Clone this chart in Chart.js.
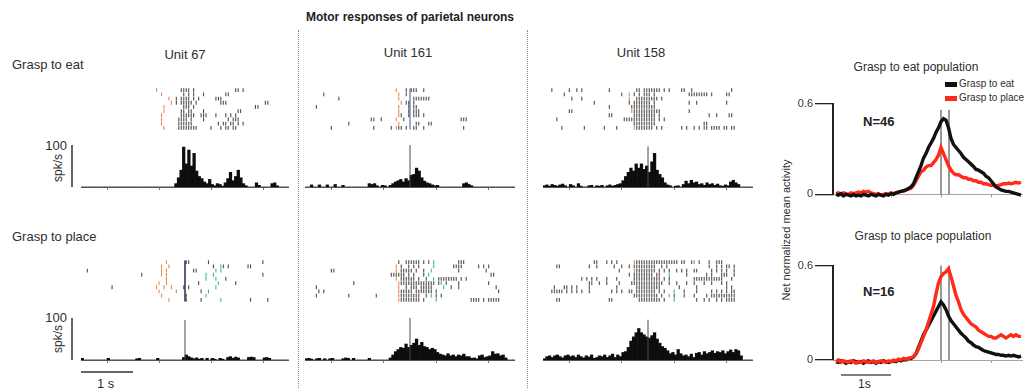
<!DOCTYPE html>
<html>
<head>
<meta charset="utf-8">
<title>Motor responses of parietal neurons</title>
<script src="https://cdn.jsdelivr.net/npm/chart.js@4.4.1/dist/chart.umd.min.js"></script>
<style>
  body { margin: 0; background: #fff; }
  #figure {
    position: relative;
    width: 1028px;
    height: 390px;
    overflow: hidden;
    font-family: "Liberation Sans", Arial, Helvetica, sans-serif;
    color: #2e2e2e;
  }
  .box { position: absolute; }
  .label { position: absolute; white-space: nowrap; line-height: 1; }
  .title { font-weight: bold; font-size: 12px; color: #222; }
  .unit { font-size: 13px; transform: translateX(-50%); }
  .cond { font-size: 13px; }
  .rate { font-size: 13px; text-align: right; width: 40px; }
  .vert { transform: translate(-50%, -50%) rotate(-90deg); }
  .sep { position: absolute; top: 30px; height: 358px; border-left: 1px dotted #8a8a8a; }
  .pop-title { font-size: 12px; transform: translateX(-50%); }
  .count { font-size: 13px; font-weight: bold; color: #222; }
  .legend-swatch { position: absolute; width: 12px; height: 5px; }
  .legend-text { font-size: 10px; }
</style>
</head>
<body>
<div id="figure">
  <div class="label title" style="left:0; width:820px; text-align:center; top:11px">Motor responses of parietal neurons</div>

  <div class="sep" style="left:298px"></div>
  <div class="sep" style="left:527px"></div>

  <div class="label unit" style="left:185px; top:48px">Unit 67</div>
  <div class="label unit" style="left:408px; top:46px">Unit 161</div>
  <div class="label unit" style="left:641px; top:46px">Unit 158</div>

  <div class="label cond" style="left:12px; top:58px">Grasp to eat</div>
  <div class="label cond" style="left:12px; top:230px">Grasp to place</div>

  <div class="label rate" style="left:27px; top:139px">100</div>
  <div class="label vert" style="left:58px; top:168px; font-size:12px">spk/s</div>
  <div class="label rate" style="left:27px; top:311px">100</div>
  <div class="label vert" style="left:58px; top:339px; font-size:12px">spk/s</div>
  <div class="label" style="left:97px; top:377px; font-size:13px">1 s</div>

  <div class="box" style="left:81px; top:83px; width:208px; height:52px"><canvas id="r67eat"></canvas></div>
  <div class="box" style="left:305px; top:83px; width:210px; height:52px"><canvas id="r161eat"></canvas></div>
  <div class="box" style="left:543px; top:83px; width:210px; height:52px"><canvas id="r158eat"></canvas></div>
  <div class="box" style="left:71px; top:145px; width:218px; height:46px"><canvas id="h67eat"></canvas></div>
  <div class="box" style="left:305px; top:145px; width:210px; height:46px"><canvas id="h161eat"></canvas></div>
  <div class="box" style="left:543px; top:145px; width:210px; height:46px"><canvas id="h158eat"></canvas></div>

  <div class="box" style="left:81px; top:255px; width:208px; height:52px"><canvas id="r67place"></canvas></div>
  <div class="box" style="left:305px; top:255px; width:210px; height:52px"><canvas id="r161place"></canvas></div>
  <div class="box" style="left:543px; top:255px; width:210px; height:52px"><canvas id="r158place"></canvas></div>
  <div class="box" style="left:71px; top:318px; width:218px; height:62px"><canvas id="h67place"></canvas></div>
  <div class="box" style="left:305px; top:318px; width:210px; height:46px"><canvas id="h161place"></canvas></div>
  <div class="box" style="left:543px; top:318px; width:210px; height:46px"><canvas id="h158place"></canvas></div>

  <div class="label pop-title" style="left:916px; top:61px">Grasp to eat population</div>
  <div class="legend-swatch" style="left:945px; top:82px; background:#111"></div>
  <div class="label legend-text" style="left:959px; top:79px">Grasp to eat</div>
  <div class="legend-swatch" style="left:945px; top:96px; background:#ff2a1a"></div>
  <div class="label legend-text" style="left:959px; top:93px">Grasp to place</div>
  <div class="label count" style="left:863px; top:115px">N=46</div>

  <div class="label pop-title" style="left:923px; top:230px">Grasp to place population</div>
  <div class="label count" style="left:863px; top:285px">N=16</div>
  <div class="label" style="left:858px; top:378px; font-size:12px">1s</div>

  <div class="label vert" style="left:786px; top:230px; font-size:11px">Net normalized mean activity</div>

  <div class="box" style="left:793px; top:95px; width:235px; height:108px"><canvas id="popEat"></canvas></div>
  <div class="box" style="left:793px; top:257px; width:235px; height:123px"><canvas id="popPlace"></canvas></div>
</div>

<script>
// Spike trains and rate histograms share 50 ms bins starting 2 s before grasp onset.
const binWidth = 0.05;
const windowStart = -2;

// Unit 67, grasp to eat: spike bins per trial, cue marker bins, rate (spk/s) per bin
const unit67EatSpikes = [
  [38, 39, 40, 41, 43, 60, 61, 63],
  [39, 41, 43, 47, 56, 57],
  [36, 38, 39, 40, 41, 43, 45, 52, 53, 54],
  [36, 38, 39, 40, 41, 42, 44, 54, 55, 56, 72, 73],
  [39, 40, 41, 43, 68, 69],
  [38, 39, 41, 42, 47, 61, 62],
  [38, 39, 40, 41, 42, 43, 46, 47, 48, 52, 56, 58, 60],
  [37, 38, 39, 40, 42, 47, 57, 59, 60, 61],
  [37, 38, 39, 40, 41, 42, 53, 55, 56, 58, 59, 61, 63],
  [37, 38, 39, 40, 41, 42, 43, 44, 50, 54, 56, 57, 59, 60]
];
const unit67EatCue = [[28], [30], [33], [34], [31], [31], [30], [30], [30], [31]];
const unit67EatRate = [
  0, 0, 0, 0, 0, 0, 0, 0, 0, 0,
  0, 0, 0, 0, 0, 0, 0, 0, 0, 0,
  0, 0, 0, 0, 0, 0, 0, 0, 0, 0,
  0, 0, 0, 0, 0, 0, 8, 22, 40, 95,
  55, 88, 50, 80, 38, 25, 20, 12, 8, 18,
  6, 3, 8, 6, 2, 10, 20, 35, 15, 25,
  40, 22, 8, 3, 0, 0, 0, 10, 4, 0,
  0, 0, 0, 8, 10, 3, 0, 0, 0, 0
];

// Unit 161, grasp to eat
const unit161EatSpikes = [
  [38, 40, 41, 42, 45],
  [5, 38],
  [11, 41, 42, 43, 44, 45, 46, 47],
  [38, 39, 41],
  [2, 39, 41, 42],
  [39, 41, 42, 43],
  [36, 39, 41, 42, 43, 45],
  [24, 25, 28, 37, 60, 61, 62],
  [15, 42, 43, 47, 48],
  [8, 25, 32, 35, 36, 38, 41, 42, 45, 61]
];
const unit161EatCue = [[34], [35], [35], [36], [35], [35], [35], [34], [35], [34]];
const unit161EatRate = [
  0, 0, 5, 0, 0, 5, 0, 0, 5, 0,
  0, 6, 0, 0, 4, 0, 0, 0, 0, 0,
  0, 0, 0, 0, 8, 6, 8, 3, 0, 4,
  3, 0, 4, 8, 12, 15, 18, 12, 20, 15,
  28, 30, 45, 38, 22, 14, 10, 8, 5, 3,
  4, 0, 0, 0, 0, 0, 0, 0, 0, 0,
  8, 10, 6, 3, 0, 0, 0, 0, 0, 0,
  0, 0, 0, 0, 0, 0, 0, 0, 0, 0
];

// Unit 158, grasp to eat
const unit158EatSpikes = [
  [1, 8, 11, 13, 24, 35, 36, 38, 39, 40, 41, 42, 43, 44, 46, 48, 53, 54, 57, 73],
  [6, 29, 34, 36, 38, 39, 40, 42, 56, 57, 58, 59, 60, 61, 62, 63, 65, 71, 72],
  [9, 13, 35, 36, 37, 38, 39, 40, 41, 42, 43, 45],
  [18, 32, 34, 35, 36, 37, 38, 39, 40, 42, 56, 59, 71],
  [24, 33, 34, 35, 36, 37, 38, 39, 40, 41, 42],
  [8, 9, 34, 35, 36, 37, 38, 39, 40, 41, 42, 43, 44, 56],
  [24, 25, 34, 35, 36, 37, 38, 39, 40, 41, 42, 44, 64, 67, 72, 73],
  [3, 30, 31, 32, 33, 34, 35, 36, 37, 38, 39, 40, 41, 42, 44, 46],
  [34, 35, 36, 37, 38, 39, 40, 41, 42, 62, 63],
  [5, 14, 22, 27, 35, 36, 37, 38, 39, 40, 41, 43, 45, 53, 55, 58, 60, 62, 63, 65, 66, 67, 68, 70, 71, 73, 74]
];
const unit158EatCue = [[], [32], [32], [], [], [33], [], [], [], [34]];
const unit158EatRate = [
  3, 5, 2, 6, 4, 2, 5, 7, 3, 0,
  6, 3, 0, 8, 2, 0, 0, 3, 4, 0,
  3, 2, 4, 0, 3, 5, 2, 4, 6, 8,
  15, 25, 35, 45, 38, 55, 45, 55, 42, 50,
  35, 60, 80, 40, 30, 22, 10, 5, 3, 0,
  2, 3, 0, 6, 14, 8, 16, 10, 12, 6,
  8, 4, 10, 6, 8, 4, 7, 3, 2, 5,
  3, 12, 16, 10, 6, 0, 0, 0, 0, 0
];

// Unit 67, grasp to place: cue (orange) and release (green) marker bins per trial
const unit67PlaceSpikes = [
  [40, 41, 49, 71],
  [51, 55, 57, 65, 66],
  [0, 43, 44],
  [22, 71],
  [56],
  [45, 60],
  [10, 39, 41],
  [46],
  [40],
  [40, 46, 66, 73]
];
const unit67PlaceCue = [[32], [30, 33], [30, 32], [30, 32], [32], [29, 32], [28, 31, 34], [29, 36], [30], [33]];
const unit67PlaceRelease = [[], [54], [52, 54], [48, 51], [48, 52], [53], [52], [49], [48], [54]];
const unit67PlaceRate = [
  4, 0, 0, 0, 0, 0, 0, 0, 0, 0,
  4, 0, 0, 0, 0, 0, 0, 0, 0, 0,
  0, 3, 4, 0, 0, 0, 0, 0, 0, 4,
  0, 0, 0, 0, 0, 0, 0, 0, 0, 6,
  12, 8, 5, 3, 5, 2, 4, 0, 4, 0,
  4, 2, 0, 4, 2, 0, 6, 8, 4, 7,
  5, 0, 0, 0, 6, 7, 6, 0, 0, 0,
  5, 6, 4, 0, 0, 0, 0, 0, 0, 0
];

// Unit 161, grasp to place
const unit161PlaceSpikes = [
  [35, 38, 39, 40, 41, 42, 43, 45, 47, 59, 60, 61],
  [36, 39, 41, 43, 57, 58, 59, 60, 67, 69, 71],
  [8, 9, 36, 37, 38, 39, 40, 42, 45, 59, 70],
  [32, 33, 34, 35, 36, 37, 39, 41, 45, 72, 73],
  [36, 37, 38, 39, 40, 41, 43, 46, 51, 52, 53, 54, 55, 56, 57, 58, 60, 62],
  [17, 36, 37, 38, 39, 40, 41, 42, 43, 44, 45, 46, 47, 48, 49, 51, 54, 59, 71],
  [2, 38, 40, 41, 42, 44, 45, 46, 47, 48, 56, 59, 74],
  [3, 5, 36, 37, 38, 39, 40, 42, 43, 44, 45, 46, 47, 48, 50, 75],
  [2, 15, 26, 36, 37, 38, 39, 40, 41, 42, 43, 46, 50, 52],
  [36, 37, 38, 39, 40, 41, 42, 43, 45, 64, 65, 66, 67, 69, 71, 72, 73, 74, 75]
];
const unit161PlaceCue = [[], [34], [34], [], [34], [35], [35], [35], [35], [35]];
const unit161PlaceRelease = [[49], [49], [48], [47], [49], [52], [53], [], [48], [50]];
const unit161PlaceRate = [
  3, 4, 2, 0, 3, 4, 0, 3, 0, 3,
  4, 0, 0, 0, 3, 5, 4, 0, 4, 0,
  0, 0, 0, 0, 4, 0, 0, 0, 0, 0,
  0, 0, 5, 12, 20, 25, 30, 28, 38, 30,
  35, 40, 50, 35, 42, 32, 30, 25, 28, 25,
  18, 14, 12, 10, 15, 10, 12, 8, 12, 10,
  14, 8, 8, 4, 5, 3, 10, 12, 6, 8,
  10, 20, 14, 15, 10, 12, 5, 0, 0, 0
];

// Unit 158, grasp to place
const unit158PlaceSpikes = [
  [18, 19, 23, 25, 27, 35, 36, 37, 38, 39, 40, 41, 42, 43, 44, 45, 46, 47, 48, 49, 50, 51, 53, 54, 57, 60, 64, 67, 68, 69],
  [3, 4, 16, 19, 26, 29, 32, 34, 35, 36, 37, 38, 39, 40, 41, 42, 45, 47, 64, 67, 69, 71, 72, 74],
  [28, 35, 36, 37, 38, 39, 40, 41, 42, 44, 46, 48, 51, 53, 55, 58, 59, 65, 67, 69, 71, 74],
  [32, 34, 35, 36, 37, 38, 39, 40, 41, 43, 44, 55, 63, 65, 69, 70, 71, 74],
  [13, 15, 17, 19, 23, 27, 34, 35, 36, 37, 38, 39, 40, 41, 42, 43, 44, 46, 48, 58, 59, 60, 61, 62, 63, 64, 65, 66, 67, 68, 69, 73],
  [16, 17, 20, 23, 28, 33, 34, 35, 36, 37, 38, 39, 40, 41, 42, 43, 44, 45, 48, 51, 55, 58, 62, 65, 69, 71],
  [2, 6, 7, 9, 11, 16, 27, 35, 36, 37, 38, 39, 40, 41, 42, 43, 44, 52, 59, 71, 73],
  [1, 2, 3, 4, 5, 7, 9, 11, 13, 16, 25, 27, 29, 32, 33, 35, 36, 37, 38, 39, 40, 41, 42, 44, 46, 54, 59, 65, 67, 69, 71, 73, 74],
  [34, 35, 36, 37, 38, 39, 40, 41, 42, 43, 45, 50, 54, 58, 63, 65, 66, 67, 68, 69, 70, 71, 72, 73, 74],
  [3, 4, 24, 25, 36, 37, 38, 39, 40, 41, 42, 43, 44, 46, 59, 62, 64, 67, 69, 71, 72, 73, 74]
];
const unit158PlaceCue = [[34], [], [34], [], [], [], [], [], [], []];
const unit158PlaceRelease = [[58], [], [], [48], [], [], [], [50], [48], [50]];
const unit158PlaceRate = [
  3, 8, 10, 6, 10, 12, 8, 5, 10, 12,
  8, 10, 6, 12, 8, 5, 10, 7, 12, 4,
  6, 10, 8, 12, 6, 10, 14, 6, 12, 8,
  18, 20, 30, 45, 55, 65, 75, 65, 60, 55,
  52, 58, 65, 50, 40, 32, 28, 22, 15, 18,
  12, 25, 15, 10, 12, 8, 14, 6, 16, 18,
  12, 20, 15, 18, 22, 16, 20, 18, 22, 15,
  20, 24, 18, 25, 22, 10, 0, 0, 0, 0
];

// Height (spk/s) of the grasp-onset marker drawn in each histogram
const unit67EatMarker = 0;
const unit161EatMarker = 100;
const unit158EatMarker = 97;
const unit67PlaceMarker = 95;
const unit161PlaceMarker = 100;
const unit158PlaceMarker = 96;

// Population means, sampled every 50 ms from -2.1 s
const popStart = -2.1;
const popStep = 0.05;
const eatPopEat = [
  0.00, -0.005, 0.005, -0.01, 0.00, -0.005, -0.01, 0.00, -0.01, -0.005,
  -0.01, 0.00, -0.005, -0.01, 0.00, -0.005, -0.01, 0.00, -0.005, -0.01,
  0.00, -0.005, 0.005, 0.00, 0.01, 0.015, 0.02, 0.025, 0.03, 0.04,
  0.05, 0.07, 0.11, 0.15, 0.19, 0.24, 0.27, 0.31, 0.34, 0.37,
  0.41, 0.44, 0.48, 0.50, 0.49, 0.44, 0.37, 0.33, 0.31, 0.29,
  0.27, 0.245, 0.23, 0.215, 0.20, 0.185, 0.165, 0.16, 0.15, 0.14,
  0.12, 0.11, 0.09, 0.07, 0.05, 0.04, 0.03, 0.025, 0.02, 0.02,
  0.015, 0.01, 0.005, 0.00, -0.005
];
const eatPopPlace = [
  0.005, 0.01, 0.00, 0.01, 0.005, 0.00, 0.01, 0.005, 0.01, 0.015,
  0.01, 0.02, 0.015, 0.02, 0.01, 0.005, 0.00, 0.005, -0.005, 0.00,
  0.005, 0.00, 0.01, 0.005, 0.01, 0.015, 0.02, 0.02, 0.03, 0.035,
  0.04, 0.06, 0.09, 0.12, 0.15, 0.16, 0.18, 0.19, 0.19, 0.21,
  0.23, 0.26, 0.31, 0.27, 0.23, 0.19, 0.16, 0.14, 0.13, 0.13,
  0.12, 0.11, 0.11, 0.10, 0.10, 0.09, 0.09, 0.08, 0.08, 0.07,
  0.07, 0.065, 0.06, 0.06, 0.055, 0.06, 0.065, 0.07, 0.07, 0.075,
  0.07, 0.075, 0.08, 0.075, 0.08
];
const placePopEat = [
  -0.01, -0.015, -0.005, -0.01, -0.02, -0.01, -0.015, -0.005, -0.01, -0.015,
  -0.01, -0.02, -0.01, -0.005, -0.015, -0.01, -0.02, -0.01, -0.015, -0.005,
  -0.01, -0.015, -0.01, -0.005, -0.01, 0.00, -0.005, 0.005, 0.00, 0.01,
  0.01, 0.02, 0.04, 0.08, 0.12, 0.16, 0.19, 0.22, 0.25, 0.28,
  0.31, 0.34, 0.37, 0.35, 0.32, 0.28, 0.25, 0.23, 0.21, 0.19,
  0.17, 0.155, 0.14, 0.12, 0.11, 0.095, 0.085, 0.08, 0.07, 0.06,
  0.055, 0.05, 0.045, 0.04, 0.035, 0.035, 0.03, 0.03, 0.025, 0.03,
  0.025, 0.03, 0.025, 0.02, 0.025
];
const placePopPlace = [
  -0.01, 0.00, -0.015, -0.005, -0.01, -0.015, -0.005, -0.01, -0.02, -0.01,
  -0.015, -0.005, -0.01, -0.015, -0.01, -0.005, -0.015, -0.01, -0.005, -0.01,
  -0.015, -0.005, -0.01, 0.00, -0.005, 0.005, 0.00, 0.01, 0.005, 0.01,
  0.015, 0.02, 0.04, 0.07, 0.11, 0.15, 0.19, 0.24, 0.29, 0.34,
  0.42, 0.49, 0.53, 0.55, 0.56, 0.58, 0.53, 0.47, 0.41, 0.37,
  0.32, 0.29, 0.27, 0.25, 0.23, 0.22, 0.21, 0.19, 0.18, 0.17,
  0.16, 0.15, 0.15, 0.14, 0.14, 0.15, 0.16, 0.15, 0.14, 0.15,
  0.16, 0.15, 0.16, 0.15, 0.15
];
// Grasp onset and hand contact, and how far their markers rise
const popEvents = [0, 0.16];
const eatPopMarker = 0.56;
const placePopMarker = 0.6;

const spikeColor = "rgba(25, 25, 25, 0.78)";
const cueColor = "#ec8550";
const releaseColor = "#3bb98a";

const binTime = (bin) => windowStart + (bin + 0.5) * binWidth;

function trialPoints(trials) {
  return trials.flatMap((bins, row) => bins.map((bin) => ({ x: binTime(bin), y: row + 1 })));
}

function tickSet(points, color) {
  return {
    data: points,
    pointStyle: "line",
    rotation: 90,
    radius: 1.9,
    borderColor: color,
    borderWidth: 1.1
  };
}

// Scale bars drawn next to the plot area, sized through the chart's own scales
const scaleBars = {
  id: "scaleBars",
  afterDraw(chart, args, opts) {
    const { ctx, chartArea, scales } = chart;
    ctx.save();
    ctx.strokeStyle = "#333";
    ctx.lineWidth = 1.5;
    if (opts.rate) {
      const x = chartArea.left - 9;
      ctx.beginPath();
      ctx.moveTo(x, scales.y.getPixelForValue(0));
      ctx.lineTo(x, scales.y.getPixelForValue(opts.rate));
      ctx.stroke();
    }
    if (opts.time) {
      const y = chartArea.bottom + opts.gap;
      ctx.strokeStyle = opts.color || "#333";
      ctx.beginPath();
      ctx.moveTo(scales.x.getPixelForValue(opts.time[0]), y);
      ctx.lineTo(scales.x.getPixelForValue(opts.time[1]), y);
      ctx.stroke();
    }
    ctx.restore();
  }
};

const baseOptions = {
  animation: false,
  responsive: true,
  maintainAspectRatio: false,
  events: [],
  plugins: { legend: { display: false }, tooltip: { enabled: false } }
};

function renderRaster(id, unit) {
  const datasets = [tickSet(trialPoints(unit.spikes), spikeColor)];
  if (unit.align) {
    datasets.push({
      type: "line",
      data: [{ x: 0, y: 0.6 }, { x: 0, y: unit.spikes.length + 0.4 }],
      borderColor: unit.align,
      borderWidth: 1.6,
      pointRadius: 0
    });
  }
  if (unit.cue) datasets.push(tickSet(trialPoints(unit.cue), cueColor));
  if (unit.release) datasets.push(tickSet(trialPoints(unit.release), releaseColor));

  new Chart(document.getElementById(id), {
    type: "scatter",
    data: { datasets },
    options: {
      ...baseOptions,
      layout: { padding: 0 },
      scales: {
        x: { type: "linear", min: -2, max: 2, display: false },
        y: { type: "linear", min: 0.5, max: unit.spikes.length + 0.5, reverse: true, display: false }
      }
    }
  });
}

function renderHistogram(id, unit, bars) {
  const datasets = [
    {
      type: "bar",
      data: unit.rate.map((value, bin) => ({ x: binTime(bin), y: value })),
      backgroundColor: "#0d0d0d",
      borderWidth: 0,
      barPercentage: 1,
      categoryPercentage: 1,
      order: 2
    }
  ];
  if (unit.marker) {
    datasets.push({
      type: "line",
      data: [{ x: 0, y: 0 }, { x: 0, y: unit.marker }],
      borderColor: "#4a4a4a",
      borderWidth: 1,
      pointRadius: 0,
      order: 1
    });
  }

  new Chart(document.getElementById(id), {
    type: "bar",
    data: { datasets },
    options: {
      ...baseOptions,
      layout: { padding: { left: bars.rate ? 10 : 0, bottom: bars.time ? 16 : 0 } },
      plugins: { ...baseOptions.plugins, scaleBars: bars },
      scales: {
        x: {
          type: "linear",
          min: -2,
          max: 2,
          offset: false,
          ticks: { display: false, stepSize: 1 },
          grid: { drawOnChartArea: false, tickLength: 3, color: "#777" },
          border: { color: "#555", width: 1 },
          afterFit: (axis) => { axis.height = 4; }
        },
        y: { min: 0, max: 100, display: false }
      }
    },
    plugins: [scaleBars]
  });
}

function popSeries(values, color, width) {
  return {
    data: values.map((value, k) => ({ x: popStart + k * popStep, y: value })),
    borderColor: color,
    borderWidth: width,
    pointRadius: 0,
    tension: 0,
    clip: false
  };
}

function renderPopulation(id, eat, place, marker, placeOnTop, withTimeBar) {
  const markers = popEvents.map((t) => ({
    data: [{ x: t, y: 0 }, { x: t, y: marker }],
    borderColor: "#555",
    borderWidth: 1.2,
    pointRadius: 0
  }));
  const eatLine = popSeries(eat, "#111", 3.4);
  const placeLine = popSeries(place, "#ff2a1a", 3.4);
  const lines = placeOnTop ? [eatLine, placeLine] : [placeLine, eatLine];

  new Chart(document.getElementById(id), {
    type: "line",
    data: { datasets: [...lines, ...markers] },
    options: {
      ...baseOptions,
      layout: { padding: { top: 8, right: 6, bottom: withTimeBar ? 16 : 0 } },
      plugins: {
        ...baseOptions.plugins,
        scaleBars: withTimeBar ? { time: [-2, -1], gap: 15, color: "#555" } : {}
      },
      scales: {
        x: {
          type: "linear",
          min: -2.16,
          max: 1.62,
          afterBuildTicks: (axis) => { axis.ticks = [-1, 0, 1].map((value) => ({ value })); },
          ticks: { display: false },
          grid: { drawOnChartArea: false, tickLength: 3, color: "#999" },
          border: { color: "#a5a5a5", width: 1 },
          afterFit: (axis) => { axis.height = 4; }
        },
        y: {
          min: 0,
          max: 0.6,
          afterBuildTicks: (axis) => { axis.ticks = [0, 0.6].map((value) => ({ value })); },
          ticks: {
            color: "#333",
            padding: 2,
            font: { family: "Liberation Sans, Arial, sans-serif", size: 11 },
            callback: (value) => (value === 0 ? "0" : "0.6")
          },
          grid: { drawOnChartArea: false, tickLength: 18, color: "#222", lineWidth: 1.3 },
          border: { color: "#222", width: 2 },
          afterFit: (axis) => { axis.width = 40; }
        }
      }
    },
    plugins: [scaleBars]
  });
}

const units = [
  { raster: "r67eat", hist: "h67eat", spikes: unit67EatSpikes, cue: unit67EatCue, rate: unit67EatRate, marker: unit67EatMarker, bars: { rate: 100 } },
  { raster: "r161eat", hist: "h161eat", spikes: unit161EatSpikes, cue: unit161EatCue, rate: unit161EatRate, marker: unit161EatMarker, align: "#7d97c4", bars: {} },
  { raster: "r158eat", hist: "h158eat", spikes: unit158EatSpikes, cue: unit158EatCue, rate: unit158EatRate, marker: unit158EatMarker, bars: {} },
  { raster: "r67place", hist: "h67place", spikes: unit67PlaceSpikes, cue: unit67PlaceCue, release: unit67PlaceRelease, rate: unit67PlaceRate, marker: unit67PlaceMarker, align: "#34395a", bars: { rate: 100, time: [-2, -1], gap: 12 } },
  { raster: "r161place", hist: "h161place", spikes: unit161PlaceSpikes, cue: unit161PlaceCue, release: unit161PlaceRelease, rate: unit161PlaceRate, marker: unit161PlaceMarker, bars: {} },
  { raster: "r158place", hist: "h158place", spikes: unit158PlaceSpikes, cue: unit158PlaceCue, release: unit158PlaceRelease, rate: unit158PlaceRate, marker: unit158PlaceMarker, bars: {} }
];

units.forEach((unit) => {
  renderRaster(unit.raster, unit);
  renderHistogram(unit.hist, unit, unit.bars);
});

renderPopulation("popEat", eatPopEat, eatPopPlace, eatPopMarker, true, false);
renderPopulation("popPlace", placePopEat, placePopPlace, placePopMarker, false, true);
</script>
</body>
</html>
